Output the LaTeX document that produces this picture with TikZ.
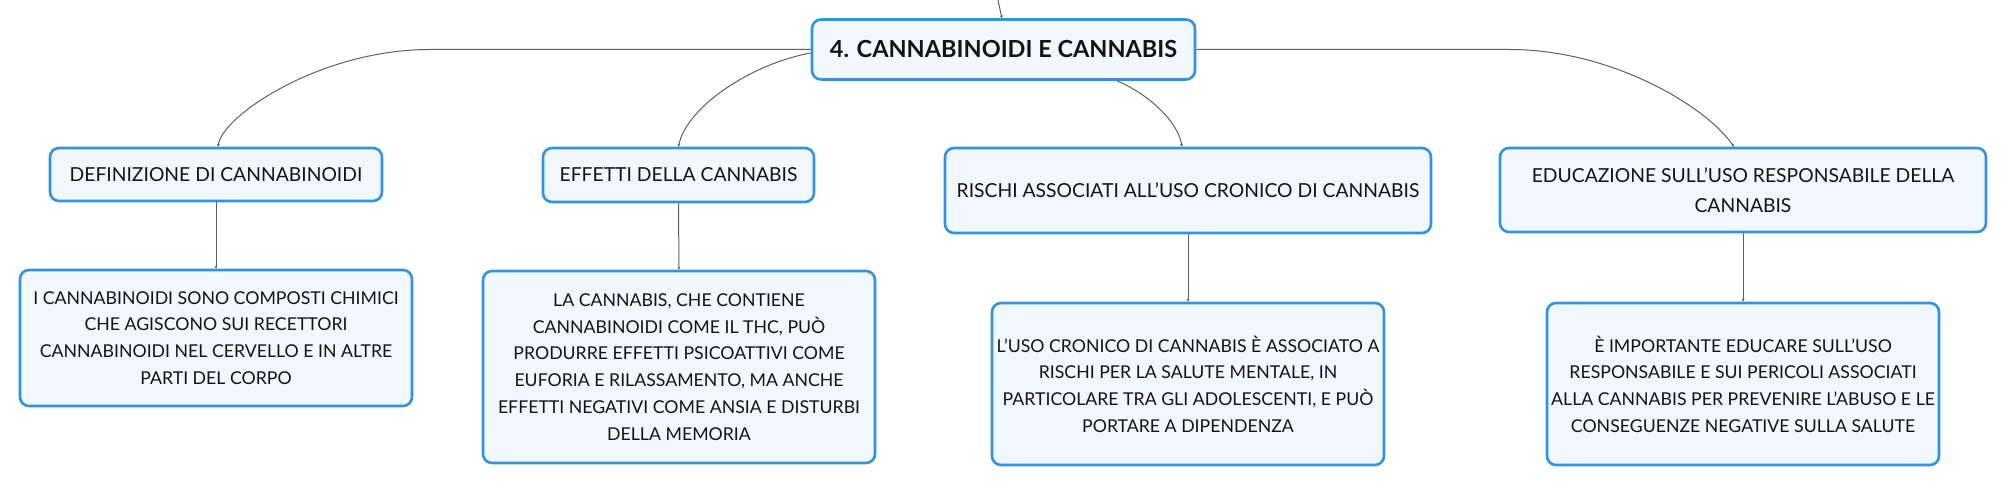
\documentclass[tikz,border=0pt]{standalone}
\usepackage{fontspec}
\setmainfont{Lato}
\usepackage{tikz}
\usetikzlibrary{arrows.meta}
\definecolor{mmblue}{RGB}{52,146,222}
\definecolor{mmfill}{RGB}{240,247,253}
\definecolor{mmline}{RGB}{95,95,95}
\definecolor{mmtext}{RGB}{20,20,20}

\begin{document}
\begin{tikzpicture}[x=1pt,y=-1pt,
  box/.style={draw=mmblue, line width=2.6pt, fill=mmfill, rounded corners=9pt,
    align=center, inner sep=0pt, text=mmtext},
  topic/.style={box, font=\fontsize{19.3}{30}\selectfont},
  leaf/.style={box, font=\fontsize{17.7}{26.7}\selectfont},
  link/.style={draw=mmline, line width=1pt, -{Stealth[length=3pt,width=3pt]}}]
\useasboundingbox (0,0) rectangle (2006,486);
\node[box, font=\fontsize{23.5}{26}\selectfont\bfseries, minimum width=383pt, minimum height=60pt]
  (root) at (1003.5,49.5) {4. CANNABINOIDI E CANNABIS};
\node[topic, minimum width=332pt, minimum height=53pt] (b1) at (216,174.5) {DEFINIZIONE DI CANNABINOIDI};
\node[topic, minimum width=271pt, minimum height=54pt] (b2) at (678.5,175) {EFFETTI DELLA CANNABIS};
\node[topic, minimum width=486pt, minimum height=85pt] (b3) at (1188,190.5) {RISCHI ASSOCIATI ALL'USO CRONICO DI CANNABIS};
\node[topic, minimum width=486pt, minimum height=84pt] (b4) at (1743,190) {EDUCAZIONE SULL'USO RESPONSABILE DELLA\\CANNABIS};
\node[leaf, minimum width=392pt, minimum height=136pt] (c1) at (216,338)
  {I CANNABINOIDI SONO COMPOSTI CHIMICI\\CHE AGISCONO SUI RECETTORI\\CANNABINOIDI NEL CERVELLO E IN ALTRE\\PARTI DEL CORPO};
\node[leaf, minimum width=392pt, minimum height=192pt] (c2) at (679,367)
  {LA CANNABIS, CHE CONTIENE\\CANNABINOIDI COME IL THC, PUÒ\\PRODURRE EFFETTI PSICOATTIVI COME\\EUFORIA E RILASSAMENTO, MA ANCHE\\EFFETTI NEGATIVI COME ANSIA E DISTURBI\\DELLA MEMORIA};
\node[leaf, minimum width=392pt, minimum height=162pt] (c3) at (1188,384)
  {L'USO CRONICO DI CANNABIS È ASSOCIATO A\\RISCHI PER LA SALUTE MENTALE, IN\\PARTICOLARE TRA GLI ADOLESCENTI, E PUÒ\\PORTARE A DIPENDENZA};
\node[leaf, minimum width=392pt, minimum height=162pt] (c4) at (1743,384)
  {È IMPORTANTE EDUCARE SULL'USO\\RESPONSABILE E SUI PERICOLI ASSOCIATI\\ALLA CANNABIS PER PREVENIRE L'ABUSO E LE\\CONSEGUENZE NEGATIVE SULLA SALUTE};
% connectors from the central topic
\coordinate (up) at (998,0);
\coordinate (k1) at (430,49.5);
\coordinate (k2) at (0,53);
\coordinate (k3) at (1117,0);
\coordinate (k4) at (1510,49.5);
\draw[link] (up) .. controls (999,8) .. ([xshift=-1.5pt]root.north);
\draw[link] (root.west) -- (k1) .. controls (320,49.5) and (222,116) .. ([xshift=2pt]b1.north);
\draw[link] (root.west |- k2) .. controls (750,64) and (686,108) .. (b2.north);
\draw[link] (k3 |- root.south) .. controls (1150,95) and (1178,122) .. ([xshift=-6pt]b3.north);
\draw[link] (root.east) -- (k4) .. controls (1610,49.5) and (1705,105) .. ([xshift=-9pt]b4.north);
\foreach \i in {1,...,4} \draw[link] (b\i.south) -- (c\i.north);
\end{tikzpicture}
\end{document}
